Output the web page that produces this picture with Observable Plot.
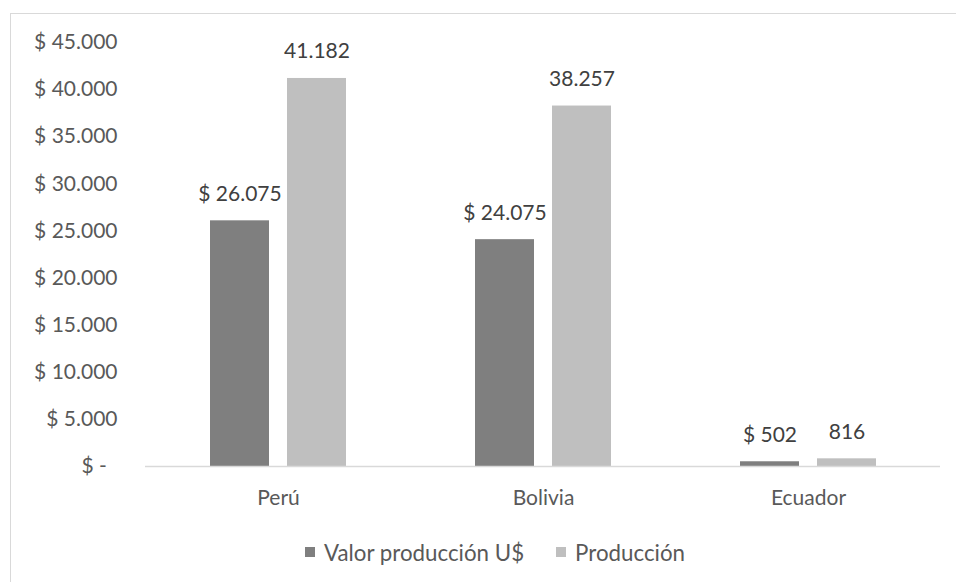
<!DOCTYPE html>
<html>
<head>
<meta charset="utf-8">
<script src="https://cdn.jsdelivr.net/npm/d3@7"></script>
<script src="https://cdn.jsdelivr.net/npm/@observablehq/plot@0.6"></script>
<style>
  html, body { margin: 0; padding: 0; background: #fff; overflow: hidden; }
  body { width: 956px; height: 582px; position: relative; font-family: Lato, "Open Sans", sans-serif; }
  #frame { position: absolute; left: 10px; top: 13px; width: 980px; height: 620px; border: 1px solid #d9d9d9; box-sizing: border-box; }
  #chart { position: absolute; left: 0; top: 0; }
  #legend { position: absolute; left: 305px; top: 539px; height: 26px; display: flex; align-items: center; font-size: 22.3px; color: #595959; white-space: nowrap; }
  #legend .item { display: flex; align-items: center; margin-right: 32px; }
  #legend .sw { width: 10px; height: 10px; margin-right: 9px; }
</style>
</head>
<body>
<div id="frame"></div>
<div id="chart"></div>
<div id="legend"></div>
<script>
const countries = ["Perú", "Bolivia", "Ecuador"];
const seriesNames = ["Valor producción U$", "Producción"];
const valorProduccion = [26075, 24075, 502];
const produccion = [41182, 38257, 816];
const yTicks = [0, 5000, 10000, 15000, 20000, 25000, 30000, 35000, 40000, 45000];
const colors = ["#7f7f7f", "#bfbfbf"];

const fmtNum = v => d3.format(",")(v).replace(/,/g, ".");
const valorData = countries.map((c, i) => ({country: c, series: seriesNames[0], value: valorProduccion[i], label: "$ " + fmtNum(valorProduccion[i])}));
const prodData = countries.map((c, i) => ({country: c, series: seriesNames[1], value: produccion[i], label: fmtNum(produccion[i])}));

// group band = 136px, each bar 59px, gap 17px
const barInset = 77;
const labelShift = 38.5;

const chart = Plot.plot({
  width: 956,
  height: 520,
  marginLeft: 145,
  marginRight: 16,
  marginTop: 42,
  marginBottom: 54,
  style: {fontFamily: "Lato, 'Open Sans', sans-serif", fontSize: "21px", color: "#595959", background: "transparent", overflow: "visible"},
  x: {domain: countries, paddingInner: 0.4868, paddingOuter: 0.2434, label: null, tickSize: 0, tickPadding: 24},
  y: {domain: [0, 45000], ticks: yTicks, tickSize: 0, tickPadding: 28, label: null,
      tickFormat: v => v === 0 ? "$ -\u00a0\u00a0" : "$ " + fmtNum(v)},
  color: {domain: seriesNames, range: colors},
  marks: [
    Plot.barY(valorData, {x: "country", y: "value", fill: "series", insetRight: barInset}),
    Plot.barY(prodData, {x: "country", y: "value", fill: "series", insetLeft: barInset}),
    Plot.ruleY([0], {stroke: "#d9d9d9", strokeWidth: 1.5}),
    Plot.text(valorData, {x: "country", y: "value", text: "label", dx: -labelShift, dy: -20, lineAnchor: "bottom", fill: "#404040", fontSize: 21}),
    Plot.text(prodData, {x: "country", y: "value", text: "label", dx: labelShift, dy: -20, lineAnchor: "bottom", fill: "#404040", fontSize: 21})
  ]
});
document.getElementById("chart").appendChild(chart);

const legend = document.getElementById("legend");
seriesNames.forEach((s, i) => {
  const item = document.createElement("div");
  item.className = "item";
  const sw = document.createElement("div");
  sw.className = "sw";
  sw.style.background = colors[i];
  const t = document.createElement("span");
  t.textContent = s;
  item.appendChild(sw);
  item.appendChild(t);
  legend.appendChild(item);
});
</script>
</body>
</html>
